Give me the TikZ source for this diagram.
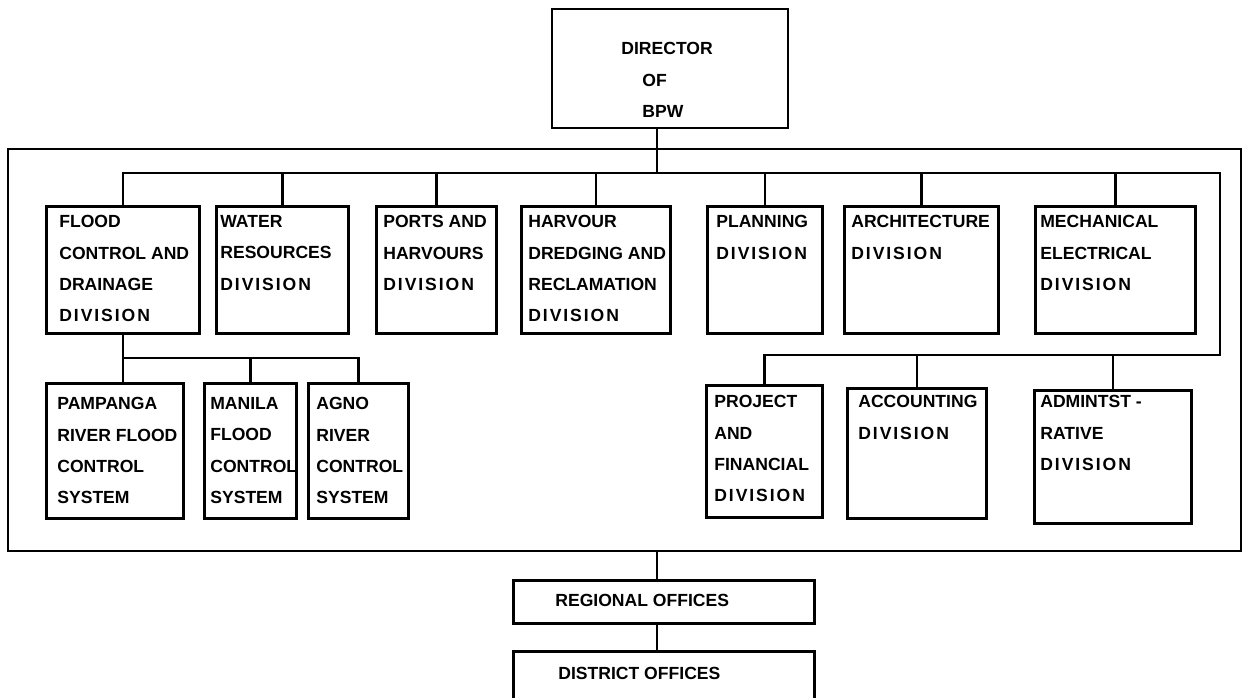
\documentclass[tikz,border=0pt]{standalone}
\usepackage{fontspec}
\setmainfont{Liberation Sans}
\newcommand{\orgfont}{\fontsize{10}{17.9}\selectfont\bfseries}
\newcommand{\dvs}{{\addfontfeature{LetterSpace=11}DIVISION}}

\begin{document}
\begin{tikzpicture}[x=0.02cm, y=-0.02cm,
        unit/.style={draw, line width=1.5pt, anchor=north west, inner sep=0pt},
        lbl/.style={anchor=north west, align=left, inner sep=0pt, font=\orgfont},
        link/.style={line width=1.4pt}]

        % Page area (district box runs off the bottom)
        \clip (0,0) rectangle (1245,697);

        % Director
        \node[unit, line width=1.2pt, minimum width=4.72cm, minimum height=2.38cm] (director) at (551,8) {};
        \node[lbl] (director-t) at (621,42) {DIRECTOR\\\hspace*{0.42cm}OF\\\hspace*{0.42cm}BPW};

        % Head office frame
        \node[unit, line width=1.1pt, minimum width=24.66cm, minimum height=8.04cm] (frame) at (7,148) {};
        \coordinate (trunk) at (657,0);
        \coordinate (topbus) at (1220,173);
        \coordinate (lowbus) at (1220,355);
        \coordinate (subbus) at (0,358);

        % Divisions (top row)
        \node[unit, minimum width=3.06cm, minimum height=2.54cm] (flood) at (45,205) {};
        \node[unit, minimum width=2.64cm, minimum height=2.54cm] (water) at (215,205) {};
        \node[unit, minimum width=2.40cm, minimum height=2.54cm] (ports) at (375,205) {};
        \node[unit, minimum width=2.98cm, minimum height=2.54cm] (harvour) at (520,205) {};
        \node[unit, minimum width=2.30cm, minimum height=2.54cm] (planning) at (706,205) {};
        \node[unit, minimum width=3.08cm, minimum height=2.54cm] (arch) at (843,205) {};
        \node[unit, minimum width=3.20cm, minimum height=2.54cm] (mech) at (1034,205) {};

        \node[lbl] (flood-t) at (59,215) {FLOOD\\CONTROL AND\\DRAINAGE\\\dvs};
        \node[lbl] (water-t) at (220,215) {WATER\\RESOURCES\\\dvs};
        \node[lbl] (ports-t) at (383,215) {PORTS AND\\HARVOURS\\\dvs};
        \node[lbl] (harvour-t) at (528,215) {HARVOUR\\DREDGING AND\\RECLAMATION\\\dvs};
        \node[lbl] (planning-t) at (716,215) {PLANNING\\\dvs};
        \node[lbl] (arch-t) at (851,215) {ARCHITECTURE\\\dvs};
        \node[lbl] (mech-t) at (1040,215) {MECHANICAL\\ELECTRICAL\\\dvs};

        % Flood control systems
        \node[unit, minimum width=2.74cm, minimum height=2.70cm] (pampanga) at (45,382) {};
        \node[unit, minimum width=1.84cm, minimum height=2.70cm] (manila) at (203,382) {};
        \node[unit, minimum width=2.00cm, minimum height=2.70cm] (agno) at (307,382) {};

        \node[lbl] (pampanga-t) at (57,397) {PAMPANGA\\RIVER FLOOD\\CONTROL\\SYSTEM};
        \node[lbl] (manila-t) at (210,397) {MANILA\\FLOOD\\CONTROL\\SYSTEM};
        \node[lbl] (agno-t) at (316,397) {AGNO\\RIVER\\CONTROL\\SYSTEM};

        % Divisions (lower row)
        \node[unit, minimum width=2.32cm, minimum height=2.64cm] (project) at (705,384) {};
        \node[unit, minimum width=2.78cm, minimum height=2.60cm] (accounting) at (846,387) {};
        \node[unit, minimum width=3.14cm, minimum height=2.66cm] (admin) at (1033,389) {};

        \node[lbl] (project-t) at (714,395) {PROJECT\\AND\\FINANCIAL\\\dvs};
        \node[lbl] (accounting-t) at (858,395) {ACCOUNTING\\\dvs};
        \node[lbl] (admin-t) at (1040,395) {ADMINTST -\\RATIVE\\\dvs};

        % Field offices
        \node[unit, minimum width=6.02cm, minimum height=0.86cm] (regional) at (512,579) {};
        \node[unit, minimum width=6.02cm, minimum height=1.60cm] (district) at (512,650) {};
        \node[lbl] (regional-t) at (555,594) {REGIONAL OFFICES};
        \node[lbl] (district-t) at (558,667) {DISTRICT OFFICES};

        % Connectors
        \draw[link] (director.south -| trunk) -- (trunk |- topbus);
        \draw[link] (flood.north) |- (topbus) -- (lowbus) -| (project.north);
        \foreach \n in {water,ports,harvour,planning,arch,mech}
            \draw[link] (\n.north) -- (\n.north |- topbus);
        \foreach \n in {accounting,admin}
            \draw[link] (\n.north) -- (\n.north |- lowbus);

        \draw[link] (flood.south) -- (flood.south |- pampanga.north);
        \draw[link] (flood.south |- subbus) -| (agno.north);
        \draw[link] (manila.north) -- (manila.north |- subbus);

        \draw[link] (frame.south -| trunk) -- (regional.north -| trunk);
        \draw[link] (regional.south -| trunk) -- (district.north -| trunk);

\end{tikzpicture}
\end{document}
